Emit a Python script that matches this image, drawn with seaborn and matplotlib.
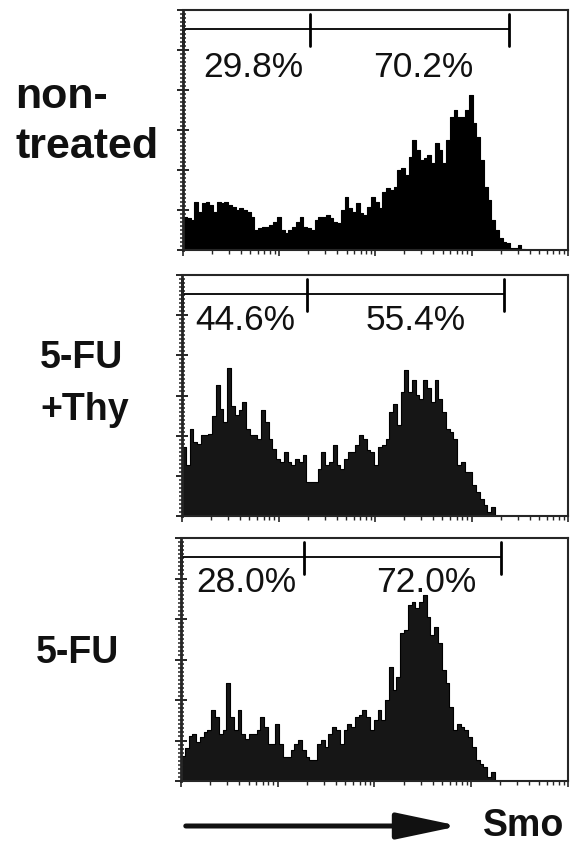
import numpy as np
import pandas as pd
import matplotlib
matplotlib.use("Agg")
import matplotlib.pyplot as plt
import seaborn as sns
from matplotlib.patches import FancyArrowPatch


# Histogram counts per channel bin (bin width 10 channels, 1024-channel scale)
nontreated = [100, 95, 90, 145, 115, 140, 145, 135, 115, 145, 140, 145, 135, 130, 120, 125,
              120, 115, 100, 60, 65, 70, 70, 75, 85, 100, 60, 50, 60, 70, 85, 100, 70, 65, 60,
              90, 100, 100, 105, 95, 85, 80, 120, 160, 125, 115, 140, 110, 105, 130, 160, 145,
              125, 175, 185, 180, 190, 240, 245, 225, 280, 330, 300, 270, 275, 285, 260, 320,
              300, 260, 330, 400, 420, 400, 400, 420, 465, 380, 340, 270, 190, 150, 90, 60, 35,
              25, 20, 5, 5, 15, 3]
fu_thy = [207, 152, 262, 222, 217, 242, 242, 245, 300, 392, 320, 282, 442, 330, 302, 317, 342,
          262, 242, 242, 232, 317, 282, 232, 202, 172, 162, 192, 162, 152, 172, 162, 182, 102,
          102, 102, 142, 192, 152, 162, 212, 152, 142, 172, 192, 192, 212, 242, 232, 197, 192,
          152, 207, 212, 232, 312, 337, 272, 372, 437, 372, 407, 362, 352, 407, 382, 342, 407,
          352, 312, 262, 252, 232, 152, 162, 132, 132, 92, 72, 52, 32, 12, 27]
fu = [75, 100, 135, 140, 117, 132, 147, 152, 212, 192, 142, 152, 292, 192, 152, 212, 142, 127,
      142, 142, 152, 192, 162, 112, 112, 172, 112, 72, 72, 92, 112, 122, 92, 72, 62, 62, 112,
      122, 102, 142, 162, 152, 112, 152, 172, 162, 192, 197, 212, 192, 152, 182, 212, 182, 242,
      342, 272, 312, 442, 452, 527, 537, 517, 537, 557, 492, 437, 462, 412, 332, 292, 222, 152,
      172, 162, 152, 132, 102, 62, 52, 42, 12, 27]

bin_width = 10
label_lines = [["non-", "treated"], ["5-FU", "+Thy"], ["5-FU"]]
gate_mid = [338, 332, 326]
gate_right = [868, 855, 847]
pct_low = ["29.8%", "44.6%", "28.0%"]
pct_high = ["70.2%", "55.4%", "72.0%"]
pct_low_x = [187, 169, 173]
pct_high_x = [639, 621, 648]
y_max = [720, 722, 727]
series = [nontreated, fu_thy, fu]

sns.set_style("ticks")
plt.rcParams["font.family"] = ["Liberation Sans", "DejaVu Sans"]

W, H = 574, 848
fig = plt.figure(figsize=(W / 100, H / 100), dpi=100)


def fx(px):
    return px / W


def fy(py):
    return 1 - py / H


# panel boxes in pixels: left, top, right, bottom
boxes = [(183, 10, 568, 250), (182, 275, 568, 516), (181, 538, 568, 781)]
label_pos = [[(15, 108), (15, 158)], [(40, 368), (40, 420)], [(36, 663)]]
label_size = [31, 27, 27]
pct_y = [0.76, 0.81, 0.815]
fills = ["#000000", "#161616", "#161616"]

# log-scale style tick positions along the channel axis (4 decades)
decade = 1024 / 4
x_major = [decade * d for d in range(5)]
x_minor = [decade * (d + np.log10(k)) for d in range(4) for k in range(2, 10)]

for i, counts in enumerate(series):
    l, t, r, b = boxes[i]
    ax = fig.add_axes([fx(l), fy(b), fx(r) - fx(l), (b - t) / H])
    df = pd.DataFrame({"channel": bin_width * (np.arange(len(counts)) + 0.5),
                       "events": counts})
    sns.histplot(data=df, x="channel", weights="events", binwidth=bin_width,
                 binrange=(0, bin_width * len(counts)), element="step", fill=True,
                 color=fills[i], alpha=1, edgecolor="black", linewidth=0.8, ax=ax)
    ym = y_max[i]
    ax.set_xlim(0, 1024)
    ax.set_ylim(0, ym)
    ax.set_xlabel("")
    ax.set_ylabel("")

    # gate markers
    gy = 0.92 * ym
    ax.plot([0, gate_right[i]], [gy, gy], color="black", lw=1.3)
    for gx in [0, gate_mid[i], gate_right[i]]:
        ax.plot([gx, gx], [0.85 * ym, 0.985 * ym], color="black", lw=2, clip_on=False)
    ax.text(pct_low_x[i], pct_y[i] * ym, pct_low[i], ha="center", va="center",
            fontsize=25.5, color="#111111")
    ax.text(pct_high_x[i], pct_y[i] * ym, pct_high[i], ha="center", va="center",
            fontsize=25.5, color="#111111")

    for s in ax.spines.values():
        s.set_linewidth(1.5)
        s.set_visible(True)
    ax.spines["left"].set_linewidth(2)

    ax.set_yticks(np.arange(0, ym + 1, ym / 6))
    ax.set_yticks(np.arange(0, ym + 1, ym / 60), minor=True)
    ax.set_xticks(x_major)
    ax.set_xticks(x_minor, minor=True)
    ax.tick_params(axis="y", which="major", direction="inout", length=8, width=1.4,
                   labelleft=False)
    ax.tick_params(axis="y", which="minor", direction="inout", length=5, width=1.1)
    ax.tick_params(axis="x", which="major", direction="out", length=4, width=1.2,
                   labelbottom=False)
    ax.tick_params(axis="x", which="minor", direction="out", length=3, width=1.0)

    for (px, py), txt in zip(label_pos[i], label_lines[i]):
        fig.text(fx(px), fy(py), txt, ha="left", va="baseline", fontsize=label_size[i],
                 fontweight="bold", color="#111111")

# axis arrow
arrow = FancyArrowPatch((fx(183), fy(826)), (fx(462), fy(826)), transform=fig.transFigure,
                        arrowstyle="-|>,head_length=3.8,head_width=0.8", mutation_scale=10,
                        lw=3.6, color="#111111")
fig.add_artist(arrow)
fig.text(fx(483), fy(826), "Smo", ha="left", va="center", fontsize=27, fontweight="bold",
         color="#111111")

fig.savefig("out.png", dpi=100)
